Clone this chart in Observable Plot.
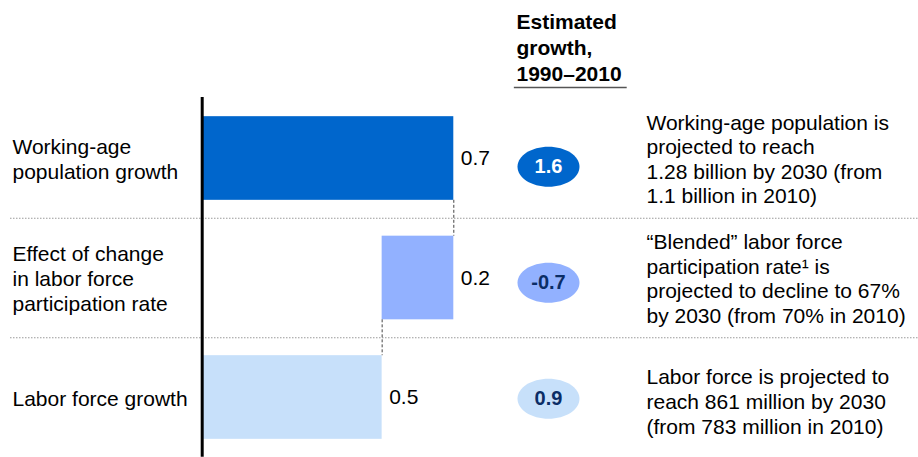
<!DOCTYPE html>
<html>
<head>
<meta charset="utf-8">
<script src="https://cdn.jsdelivr.net/npm/d3@7"></script>
<script src="https://cdn.jsdelivr.net/npm/@observablehq/plot@0.6"></script>
<style>
  html, body { margin: 0; padding: 0; background: #fff; }
  #chart { width: 918px; height: 457px; }
</style>
</head>
<body>
<div id="chart"></div>
<script>
// ---- data ----
const categories = [
  "Working-age\npopulation growth",
  "Effect of change\nin labor force\nparticipation rate",
  "Labor force growth"
];
const values = [0.7, 0.2, 0.5];            // growth contributions (% per year)
const steps = ["add", "subtract", "total"]; // waterfall step types
const growth19902010 = ["1.6", "-0.7", "0.9"];
const notes = [
  "Working-age population is\nprojected to reach\n1.28 billion by 2030 (from\n1.1 billion in 2010)",
  "\u201CBlended\u201D labor force\nparticipation rate\u00B9 is\nprojected to decline to 67%\nby 2030 (from 70% in 2010)",
  "Labor force is projected to\nreach 861 million by 2030\n(from 783 million in 2010)"
];
const headerText = "Estimated\ngrowth,\n1990\u20132010";

// ---- styles ----
const barColors = ["#0066CC", "#92B1FF", "#C7E0FA"];
const pillText = ["#FFFFFF", "#0B2D66", "#0B2D66"];

// build waterfall rows
let running = 0;
const rows = categories.map((c, i) => {
  let x1, x2;
  if (steps[i] === "add") { x1 = running; x2 = running + values[i]; running = x2; }
  else if (steps[i] === "subtract") { x1 = running - values[i]; x2 = running; running = x1; }
  else { x1 = 0; x2 = running; }
  return { i, category: c, value: values[i], x1, x2, growth: growth19902010[i], note: notes[i], color: barColors[i], pill: pillText[i] };
});
// connectors between consecutive bars
const connectors = rows.slice(0, -1).map((r, k) => ({
  x: rows[k + 1].x2,
  y1: r.i + 0.35,
  y2: r.i + 0.65
}));

const ellipse = {
  draw(ctx) {
    const rx = 31, ry = 20, k = 0.5523;
    ctx.moveTo(rx, 0);
    ctx.bezierCurveTo(rx, ry * k, rx * k, ry, 0, ry);
    ctx.bezierCurveTo(-rx * k, ry, -rx, ry * k, -rx, 0);
    ctx.bezierCurveTo(-rx, -ry * k, -rx * k, -ry, 0, -ry);
    ctx.bezierCurveTo(rx * k, -ry, rx, -ry * k, rx, 0);
    ctx.closePath();
  }
};
const pillOffset = [0.07, 0.04, 0.01];

const chart = Plot.plot({
  width: 918,
  height: 457,
  margin: 0,
  style: { fontFamily: "'Liberation Sans', Arial, sans-serif", fontSize: "21px", background: "#fff", color: "#000" },
  x: { domain: [0, 0.7], range: [202.5, 453.3], axis: null },
  y: { domain: [0, 2], range: [158, 397], axis: null },
  color: { type: "identity" },
  marks: [
    // dotted row separators
    Plot.ruleY([0.5, 1.5], { stroke: "#9a9a9a", strokeWidth: 1, strokeDasharray: "1.5,1.5", insetLeft: 10 }),
    // bars
    Plot.rect(rows, { x1: "x1", x2: "x2", y1: d => d.i - 0.35, y2: d => d.i + 0.35, fill: "color" }),
    // connectors
    Plot.ruleX(connectors, { x: "x", y1: "y1", y2: "y2", stroke: "#444", strokeWidth: 1, strokeDasharray: "3,2" }),
    // axis baseline
    Plot.ruleX([0], { y1: -0.51, y2: 2.5, stroke: "#000", strokeWidth: 3, dx: -0.8 }),
    // bar value labels
    Plot.text(rows, { x: "x2", y: "i", text: d => d.value.toFixed(1), textAnchor: "start", dx: 7, fontSize: 21 }),
    // category labels
    Plot.text(rows, { y: "i", text: "category", frameAnchor: "left", dx: 12, textAnchor: "start", fontSize: 21, lineHeight: 1.19 }),
    // notes
    Plot.text(rows, { y: d => d.i + (d.i === 2 ? 0.03 : 0), text: "note", frameAnchor: "left", dx: 646, textAnchor: "start", fontSize: 21, lineHeight: 1.17 }),
    // growth pills
    Plot.dot(rows, { y: d => d.i + pillOffset[d.i], frameAnchor: "left", dx: 548, symbol: ellipse, fill: "color", stroke: "none" }),
    Plot.text(rows, { y: d => d.i + pillOffset[d.i], frameAnchor: "left", dx: 548, text: "growth", fill: "pill", fontWeight: "bold", fontSize: 20, textAnchor: "middle" }),
    // header
    Plot.text([headerText], { frameAnchor: "top-left", dx: 516, dy: 46, lineAnchor: "middle", textAnchor: "start", fontWeight: "bold", fontSize: 21, lineHeight: 1.24 }),
    Plot.ruleY([-0.594], { x1: 0.869, x2: 1.184, stroke: "#555", strokeWidth: 1.5 })
  ]
});
document.getElementById("chart").appendChild(chart);
</script>
</body>
</html>
